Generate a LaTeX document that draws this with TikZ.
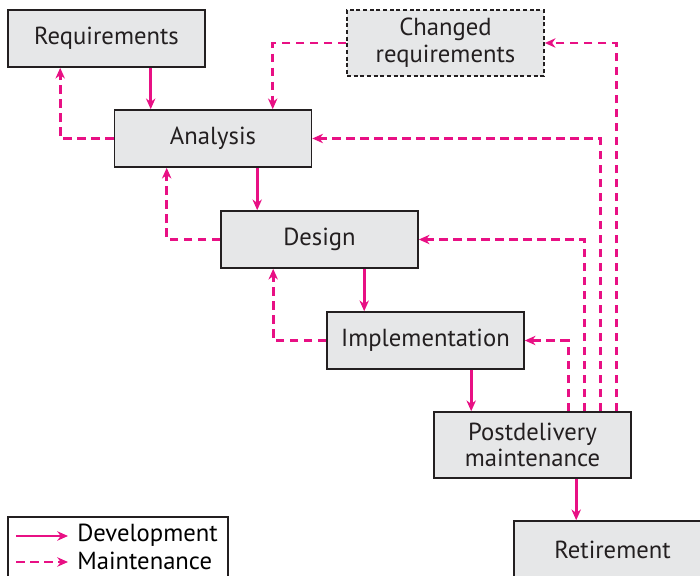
\documentclass[tikz,border=0pt]{standalone}
\usepackage{fontspec}
\setmainfont{PT Sans}
\usetikzlibrary{arrows.meta}
\definecolor{flowpink}{RGB}{232,16,132}
\definecolor{boxgray}{RGB}{230,231,232}
\definecolor{boxline}{RGB}{35,31,32}
\newcommand{\feed}{39.75pt}
\tikzset{
  phase/.style    = {draw=boxline, fill=boxgray, line width=1.2pt, text=boxline,
                     minimum width=147.75pt, minimum height=42.75pt, inner sep=0pt,
                     font=\fontsize{18.5}{20}\selectfont, align=center},
  tallphase/.style= {phase, minimum height=49.5pt},
  changed/.style  = {tallphase, dash pattern=on 3pt off 2pt},
  devflow/.style  = {-{Stealth[length=8pt,width=7pt,inset=2.5pt]}, draw=flowpink, line width=2pt},
  mntflow/.style  = {devflow, dash pattern=on 6.5pt off 4pt},
  keytext/.style  = {font=\fontsize{18.5}{20}\selectfont, text=black, anchor=west, inner sep=0pt}
}
\begin{document}
\begin{tikzpicture}[x=0.75pt, y=-0.75pt]
  \useasboundingbox (0,0) rectangle (700,575);

  % Phases
  \node[phase]     (req)  at (106.5,38.5)  {Requirements};
  \node[changed]   (chg)  at (445.5,43)    {Changed\\requirements};
  \node[phase]     (ana)  at (213,138.5)   {Analysis};
  \node[phase]     (des)  at (319.5,239.5) {Design};
  \node[phase]     (imp)  at (425.5,340.5) {Implementation};
  \node[tallphase] (post) at (532.5,445)   {Postdelivery\\maintenance};
  \node[phase]     (ret)  at (612.5,549.5) {Retirement};

  % Development (solid)
  \draw[devflow] ([xshift=27.75pt]ana.north west |- req.south) -- ([xshift=27.75pt]ana.north west);
  \draw[devflow] ([xshift=27.75pt]des.north west |- ana.south) -- ([xshift=27.75pt]des.north west);
  \draw[devflow] ([xshift=28.5pt]imp.north west |- des.south) -- ([xshift=28.5pt]imp.north west);
  \draw[devflow] ([xshift=28.5pt]post.north west |- imp.south) -- ([xshift=28.5pt]post.north west);
  \draw[devflow] ([xshift=47.25pt]ret.north west |- post.south) -- ([xshift=47.25pt]ret.north west);

  % Maintenance (dashed), back one phase
  \draw[mntflow] (ana.west) -| ([xshift=\feed]req.south west);
  \draw[mntflow] (des.west) -| ([xshift=\feed]ana.south west);
  \draw[mntflow] (imp.west) -| ([xshift=\feed]des.south west);
  \draw[mntflow] (chg.west) -| ([xshift=119.25pt]ana.north west);

  % Maintenance from postdelivery
  \draw[mntflow] ([xshift=137.25pt]post.north west) |- (chg.east);
  \draw[mntflow] ([xshift=125.25pt]post.north west) |- (ana.east);
  \draw[mntflow] ([xshift=113.25pt]post.north west) |- (des.east);
  \draw[mntflow] ([xshift=101.25pt]post.north west) |- (imp.east);

  % Key
  \draw[draw=boxline, line width=0.8pt] (8,517) rectangle (228,600);
  \coordinate (devA) at (16,536);
  \coordinate (devB) at (68,536);
  \coordinate (mntA) at (16,562);
  \coordinate (mntB) at (68,562);
  \draw[devflow] (devA) -- (devB);
  \draw[mntflow] (mntA) -- (mntB);
  \node[keytext] (devkey) at (77,535) {Development};
  \node[keytext] (mntkey) at (77,561) {Maintenance};
\end{tikzpicture}
\end{document}
